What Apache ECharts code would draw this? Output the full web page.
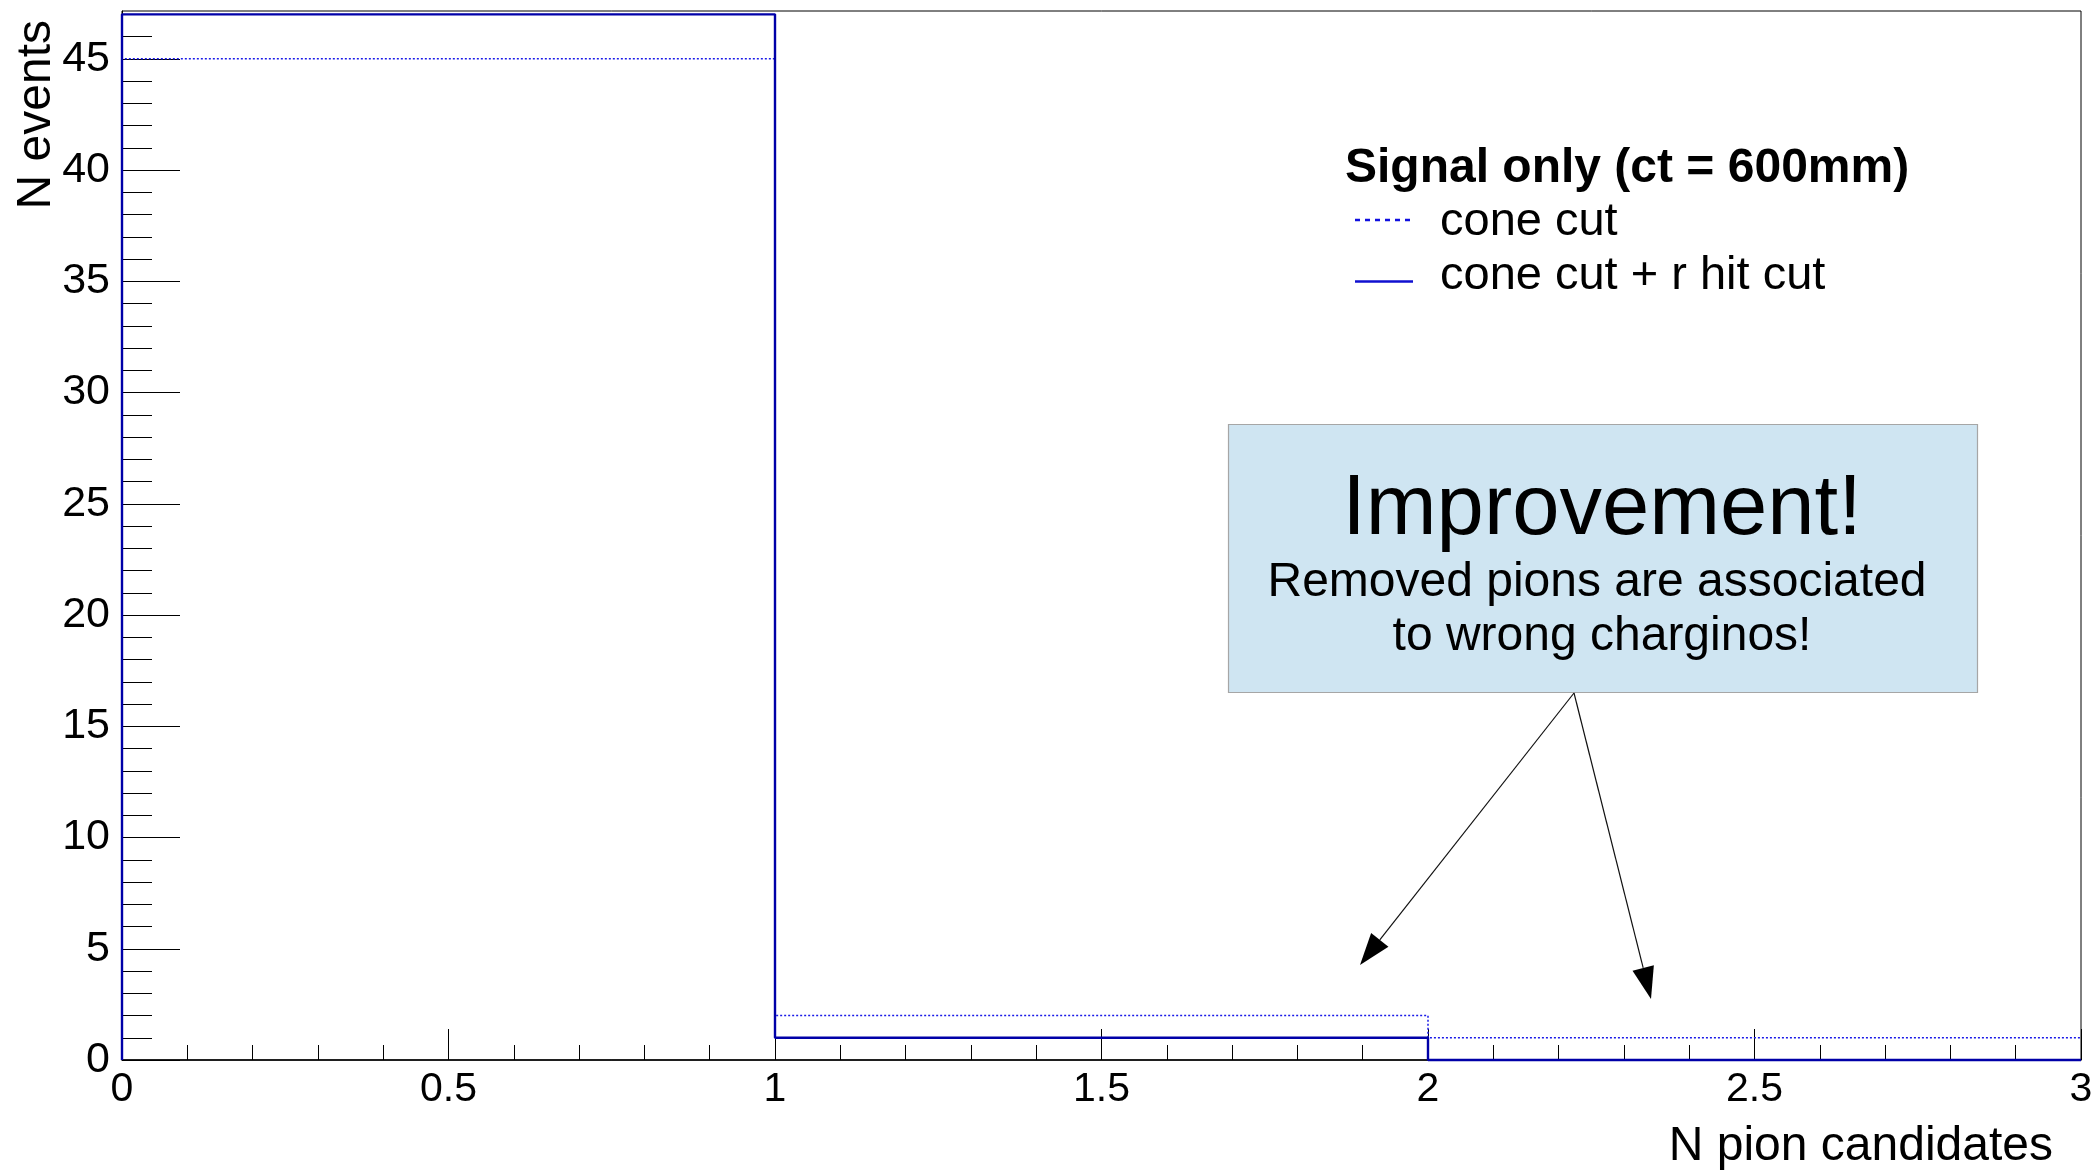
<!DOCTYPE html>
<html>
<head>
<meta charset="utf-8">
<script src="https://cdn.jsdelivr.net/npm/echarts@6/dist/echarts.min.js"></script>
<style>
  html, body { margin: 0; padding: 0; background: #fff; }
  #chart { width: 2099px; height: 1170px; }
</style>
</head>
<body>
<div id="chart"></div>
<script>
// ---- data ----
const binEdges = [0, 1, 2, 3];
const coneCut = [45, 2, 1];
const coneCutRHit = [47, 1, 0];
const yMajorTicks = [0, 5, 10, 15, 20, 25, 30, 35, 40, 45];
const yMinorTicks = [1,2,3,4,6,7,8,9,11,12,13,14,16,17,18,19,21,22,23,24,26,27,28,29,31,32,33,34,36,37,38,39,41,42,43,44,46,47];
const seriesNames = ['cone cut', 'cone cut + r hit cut'];
const legendTitle = 'Signal only (ct = 600mm)';
const xTitle = 'N pion candidates';
const yTitle = 'N events';
const noteLines = ['Improvement!', 'Removed pions are associated', 'to wrong charginos!'];

const FONT = '"Liberation Sans", Arial, Helvetica, sans-serif';
const DOT_COLOR = '#1a1ae8';
const SOLID_COLOR = '#0000a8';

function histPoints(vals) {
  const pts = [[binEdges[0], 0]];
  vals.forEach((v, i) => pts.push([binEdges[i], v]));
  pts.push([binEdges[binEdges.length - 1], vals[vals.length - 1]]);
  return pts;
}

// arrows (annotation, pixel space)
const arrowFrom = [1574, 693];
const arrowTips = [[1360, 965], [1651, 999]];
const arrowGraphics = [];
arrowTips.forEach(tip => {
  const dx = tip[0] - arrowFrom[0], dy = tip[1] - arrowFrom[1];
  const len = Math.sqrt(dx * dx + dy * dy);
  const ux = dx / len, uy = dy / len;
  const headLen = 32, headHalf = 11;
  const bx = tip[0] - ux * headLen, by = tip[1] - uy * headLen;
  arrowGraphics.push({
    type: 'line', z: 100,
    shape: { x1: arrowFrom[0], y1: arrowFrom[1], x2: bx, y2: by },
    style: { stroke: '#111', lineWidth: 1.2 }
  });
  arrowGraphics.push({
    type: 'polygon', z: 100,
    shape: { points: [[tip[0], tip[1]], [bx - uy * headHalf, by + ux * headHalf], [bx + uy * headHalf, by - ux * headHalf]] },
    style: { fill: '#000' }
  });
});

// legend (drawn as graphics for exact placement)
const legendGraphics = [
  {
    type: 'text', x: 1345, y: 168.5,
    style: { text: legendTitle, fontSize: 48, fontWeight: 'bold', fontFamily: FONT, fill: '#000', align: 'left', verticalAlign: 'middle' }
  },
  {
    type: 'line', shape: { x1: 1355, y1: 220, x2: 1413, y2: 220 },
    style: { stroke: '#1010e0', lineWidth: 2.5, lineDash: [5, 5] }
  },
  {
    type: 'text', x: 1440, y: 222.5,
    style: { text: seriesNames[0], fontSize: 47, fontFamily: FONT, fill: '#000', align: 'left', verticalAlign: 'middle' }
  },
  {
    type: 'line', shape: { x1: 1355, y1: 281.5, x2: 1413, y2: 281.5 },
    style: { stroke: '#1010d0', lineWidth: 2.5 }
  },
  {
    type: 'text', x: 1440, y: 276.5,
    style: { text: seriesNames[1], fontSize: 47, fontFamily: FONT, fill: '#000', align: 'left', verticalAlign: 'middle' }
  }
];

const chart = echarts.init(document.getElementById('chart'), null, { renderer: 'canvas' });

const option = {
  backgroundColor: '#fff',
  animation: false,
  grid: {
    left: 122, right: 18, top: 11, bottom: 110,
    show: true, borderColor: '#000', borderWidth: 1, backgroundColor: 'transparent'
  },
  xAxis: {
    type: 'value', min: 0, max: 3, interval: 0.5,
    axisLine: { show: true, onZero: false, lineStyle: { color: '#000', width: 1.5 } },
    axisTick: { show: true, inside: true, length: 31, lineStyle: { color: '#000', width: 1 } },
    minorTick: { show: true, splitNumber: 5, length: 15, lineStyle: { color: '#000', width: 1 } },
    axisLabel: { fontSize: 41, fontFamily: FONT, color: '#000', margin: 9 },
    splitLine: { show: false },
    minorSplitLine: { show: false }
  },
  yAxis: [
    {
      type: 'value', min: 0, max: 47.15, position: 'left',
      axisLine: { show: true, onZero: false, lineStyle: { color: '#000', width: 1 } },
      axisTick: { show: true, inside: true, length: 58, customValues: yMajorTicks, lineStyle: { color: '#000', width: 1 } },
      axisLabel: { customValues: yMajorTicks, fontSize: 43, fontFamily: FONT, color: '#000', margin: 12 },
      splitLine: { show: false }
    },
    {
      type: 'value', min: 0, max: 47.15, position: 'left',
      axisLine: { show: false },
      axisTick: { show: true, inside: true, length: 30, customValues: yMinorTicks, lineStyle: { color: '#000', width: 1 } },
      axisLabel: { show: false },
      splitLine: { show: false }
    }
  ],
  series: [
    {
      name: seriesNames[0], type: 'line', step: 'end', symbol: 'none', clip: false, z: 3,
      data: histPoints(coneCut),
      lineStyle: { color: DOT_COLOR, width: 1.5, type: [2, 2] },
      itemStyle: { color: DOT_COLOR }
    },
    {
      name: seriesNames[1], type: 'line', step: 'end', symbol: 'none', clip: false, z: 4,
      data: histPoints(coneCutRHit),
      lineStyle: { color: SOLID_COLOR, width: 2.4 },
      itemStyle: { color: SOLID_COLOR }
    }
  ],
  graphic: [
    {
      type: 'text', x: 37, y: 20, rotation: Math.PI / 2,
      style: { text: yTitle, fontSize: 48, fontFamily: FONT, fill: '#000', align: 'right', verticalAlign: 'middle' }
    },
    {
      type: 'text', x: 2053, y: 1146.5,
      style: { text: xTitle, fontSize: 48, fontFamily: FONT, fill: '#000', align: 'right', verticalAlign: 'middle' }
    },
    {
      type: 'rect', z: 90,
      shape: { x: 1228.5, y: 424.5, width: 749, height: 268 },
      style: { fill: '#cfe5f2', stroke: '#a6a6a6', lineWidth: 1.2 }
    },
    {
      type: 'text', z: 91, x: 1602, y: 511,
      style: { text: noteLines[0], fontSize: 85, fontFamily: FONT, fill: '#000', align: 'center', verticalAlign: 'middle' }
    },
    {
      type: 'text', z: 91, x: 1597, y: 582.5,
      style: { text: noteLines[1], fontSize: 48, fontFamily: FONT, fill: '#000', align: 'center', verticalAlign: 'middle' }
    },
    {
      type: 'text', z: 91, x: 1602, y: 637,
      style: { text: noteLines[2], fontSize: 48, fontFamily: FONT, fill: '#000', align: 'center', verticalAlign: 'middle' }
    }
  ].concat(legendGraphics, arrowGraphics)
};

chart.setOption(option);
</script>
</body>
</html>
